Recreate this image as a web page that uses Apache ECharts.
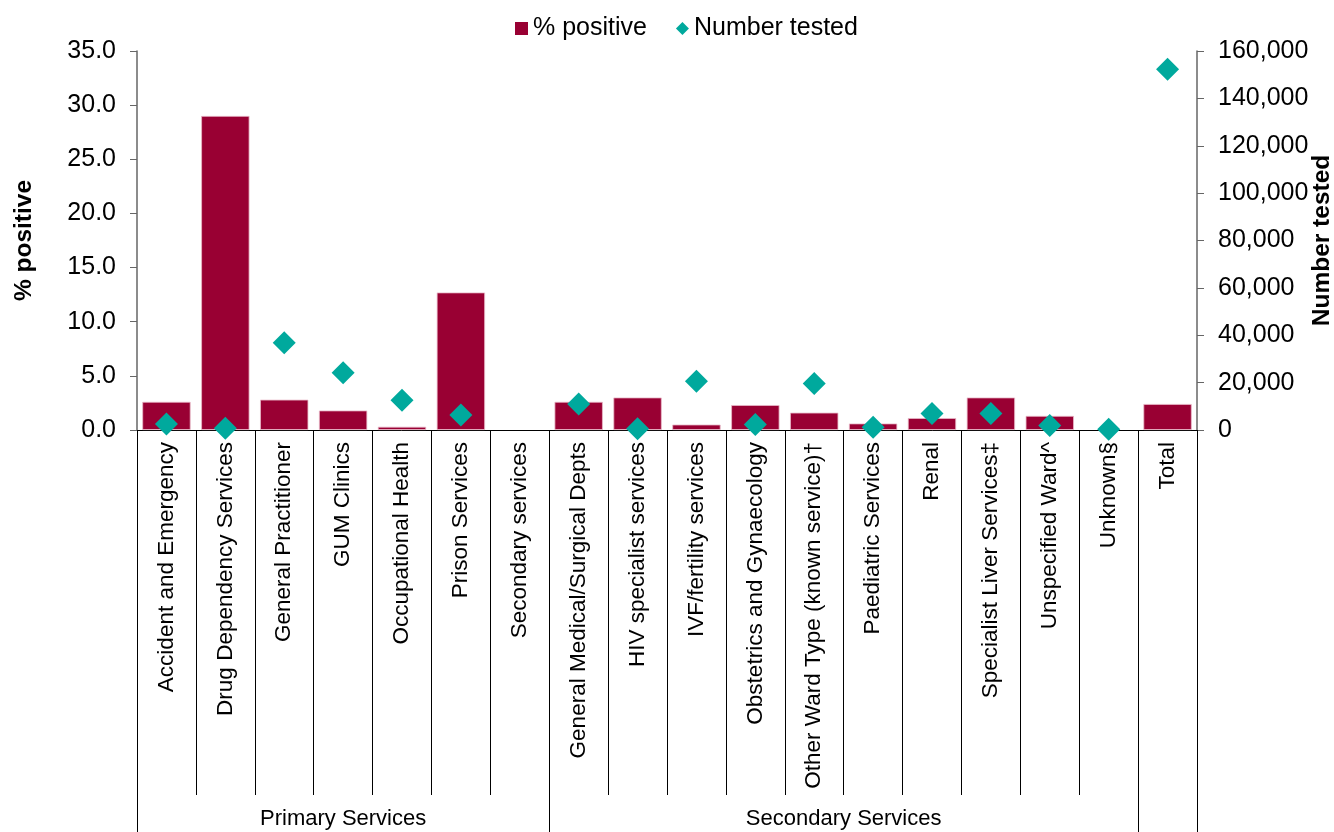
<!DOCTYPE html>
<html>
<head>
<meta charset="utf-8">
<script src="https://cdn.jsdelivr.net/npm/echarts@6/dist/echarts.min.js"></script>
<style>
html,body{margin:0;padding:0;background:#fff;overflow:hidden;}
#chart{width:1334px;height:832px;}
</style>
</head>
<body>
<div id="chart"></div>
<script>
const categories = [
  'Accident and Emergency','Drug Dependency Services','General Practitioner','GUM Clinics',
  'Occupational Health','Prison Services','Secondary services','General Medical/Surgical Depts',
  'HIV specialist services','IVF/fertility services','Obstetrics and Gynaecology',
  'Other Ward Type (known service)\u2020','Paediatric Services','Renal','Specialist Liver Services\u2021',
  'Unspecified Ward^','Unknown\u00a7','Total'
];
const pctPositive = [2.6, 29.0, 2.8, 1.8, 0.3, 12.7, null, 2.6, 3.0, 0.5, 2.3, 1.6, 0.6, 1.1, 3.0, 1.3, null, 2.4];
const numberTested = [2500, 700, 36800, 24200, 12600, 6300, null, 11000, 500, 20600, 2300, 19600, 1200, 7000, 7000, 1900, 300, 152300];
const leftTicks = {min: 0, max: 35, interval: 5};
const rightTicks = {min: 0, max: 160000, interval: 20000};
const groups = [
  {name: 'Primary Services', start: 0, end: 6},
  {name: 'Secondary Services', start: 7, end: 16}
];
const groupBoundaries = [0, 7, 17, 18];

const FONT = '"Liberation Sans", Arial, sans-serif';
const chart = echarts.init(document.getElementById('chart'), null, {renderer: 'canvas', width: 1334, height: 832});

const option = {
  animation: false,
  backgroundColor: '#fff',
  textStyle: {fontFamily: FONT, color: '#000'},
  legend: {
    top: 11,
    left: 510,
    itemGap: 29,
    itemWidth: 13,
    itemHeight: 13,
    textStyle: {fontSize: 25, fontFamily: FONT, color: '#000'},
    data: [
      {name: '% positive', icon: 'rect', itemStyle: {color: '#990033', borderWidth: 0}},
      {name: 'Number tested', icon: 'diamond', itemStyle: {color: '#00A99D', opacity: 1}}
    ]
  },
  grid: {left: 137, right: 137, top: 51, bottom: 402, containLabel: false, outerBoundsMode: 'none'},
  xAxis: {
    type: 'category',
    data: categories,
    axisLine: {show: true, lineStyle: {color: '#000', width: 1}},
    axisTick: {show: true, alignWithLabel: false, length: 365, lineStyle: {color: '#000', width: 1}},
    axisLabel: {
      rotate: 90, interval: 0, margin: 12,
      fontSize: 22.5, fontFamily: FONT, color: '#000'
    },
    splitLine: {show: false}
  },
  yAxis: [
    {
      type: 'value', position: 'left',
      min: leftTicks.min, max: leftTicks.max, interval: leftTicks.interval,
      name: '% positive', nameLocation: 'middle', nameGap: 100,
      nameMoveOverlap: false,
      nameTextStyle: {fontSize: 24.5, fontWeight: 'bold', fontFamily: FONT, color: '#000'},
      axisLine: {show: true, lineStyle: {color: '#666', width: 1.5}},
      axisTick: {show: true, length: 7, lineStyle: {color: '#666'}},
      axisLabel: {fontSize: 25, fontFamily: FONT, color: '#000', margin: 21,
        formatter: v => v.toFixed(1)},
      splitLine: {show: false}
    },
    {
      type: 'value', position: 'right',
      min: rightTicks.min, max: rightTicks.max, interval: rightTicks.interval,
      name: 'Number tested', nameLocation: 'middle', nameGap: 113,
      nameRotate: 90, nameMoveOverlap: false,
      nameTextStyle: {fontSize: 24.5, fontWeight: 'bold', fontFamily: FONT, color: '#000'},
      axisLine: {show: true, lineStyle: {color: '#666', width: 1.5}},
      axisTick: {show: true, length: 7, lineStyle: {color: '#666'}},
      axisLabel: {fontSize: 25, fontFamily: FONT, color: '#000', margin: 21,
        formatter: v => v.toLocaleString('en-US')},
      splitLine: {show: false}
    }
  ],
  series: [
    {
      name: '% positive', type: 'bar', yAxisIndex: 0,
      data: pctPositive,
      barCategoryGap: '18%',
      itemStyle: {color: '#990033', borderColor: '#e8b9c8', borderWidth: 0.8}
    },
    {
      name: 'Number tested', type: 'scatter', yAxisIndex: 1,
      data: numberTested,
      symbol: 'diamond', symbolSize: 23,
      itemStyle: {color: '#00A99D', opacity: 1},
      z: 5
    }
  ]
};
chart.setOption(option);

function drawGroups() {
  const c0 = chart.convertToPixel({xAxisIndex: 0}, 0);
  const c1 = chart.convertToPixel({xAxisIndex: 0}, 1);
  const band = c1 - c0;
  const edge = i => c0 - band / 2 + i * band;
  const baseY = chart.convertToPixel({yAxisIndex: 0}, 0);
  const bottom = 832;
  const elements = [];
  groupBoundaries.forEach(b => {
    const x = Math.round(edge(b)) + 0.5;
    elements.push({
      type: 'line', silent: true,
      shape: {x1: x, y1: baseY, x2: x, y2: bottom},
      style: {stroke: '#000', lineWidth: 1}
    });
  });
  groups.forEach(g => {
    const cx = (edge(g.start) + edge(g.end + 1)) / 2;
    elements.push({
      type: 'text', silent: true,
      x: cx, y: 819,
      style: {text: g.name, font: '22px ' + FONT, fill: '#000', align: 'center', verticalAlign: 'middle'}
    });
  });
  chart.setOption({graphic: elements});
}
drawGroups();
</script>
</body>
</html>
